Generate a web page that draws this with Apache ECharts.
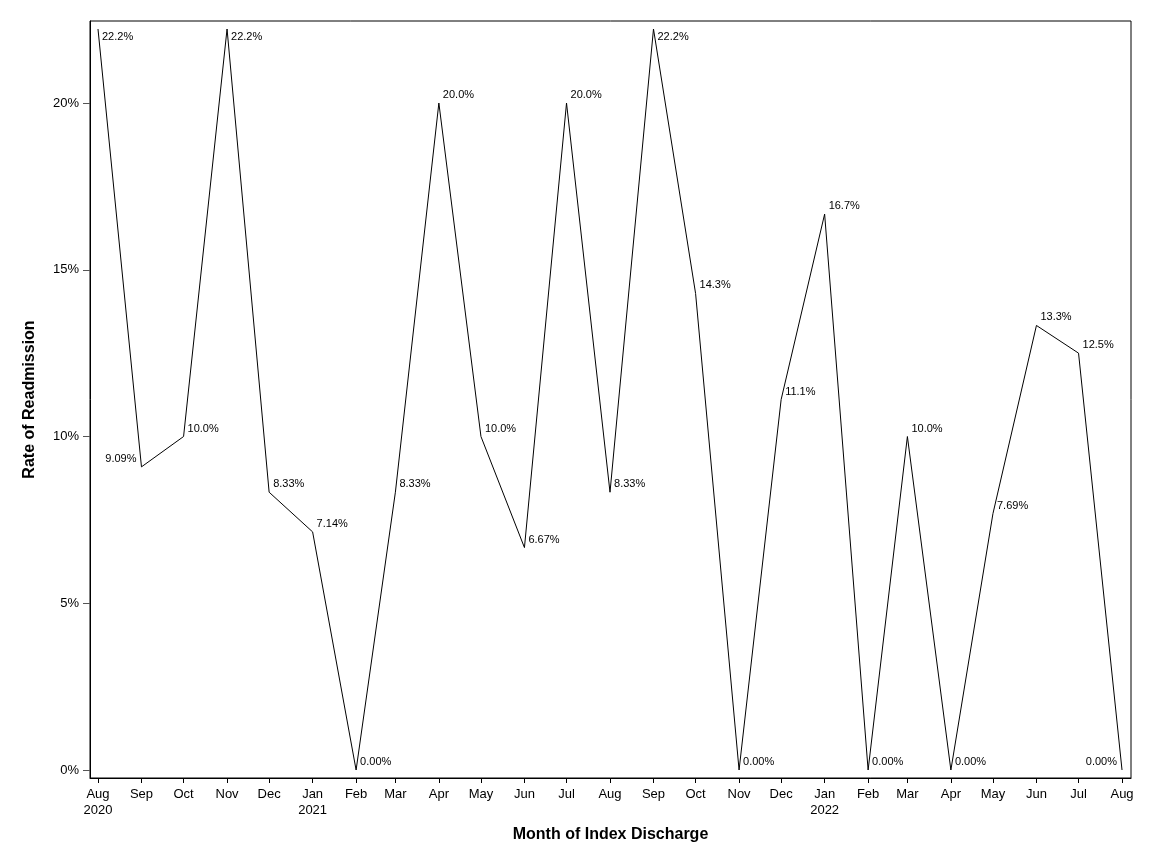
<!DOCTYPE html>
<html>
<head>
<meta charset="utf-8">
<script src="https://cdn.jsdelivr.net/npm/echarts@6/dist/echarts.min.js"></script>
<style>html,body{margin:0;padding:0;background:#fff}#c{width:1152px;height:864px}</style>
</head>
<body>
<div id="c"></div>
<script>
// Data
var months = ['2020-08','2020-09','2020-10','2020-11','2020-12','2021-01','2021-02','2021-03','2021-04','2021-05','2021-06','2021-07','2021-08','2021-09','2021-10','2021-11','2021-12','2022-01','2022-02','2022-03','2022-04','2022-05','2022-06','2022-07','2022-08'];
var rates = [22.22, 9.09, 10.0, 22.22, 8.33, 7.14, 0, 8.33, 20.0, 10.0, 6.67, 20.0, 8.33, 22.22, 14.29, 0, 11.11, 16.67, 0, 10.0, 0, 7.69, 13.33, 12.5, 0];
var yTicks = [0, 5, 10, 15, 20];
var monthNames = ['Jan','Feb','Mar','Apr','May','Jun','Jul','Aug','Sep','Oct','Nov','Dec'];

function ts(m) { var p = m.split('-'); return Date.UTC(+p[0], +p[1] - 1, 1); }
var tickTimes = months.map(ts);
var DAY = 86400000;

// label placement (style, not data)
var placeRule = function (i, v) {
  if (i === 1 || i === months.length - 1) return 'tl';
  if (v > 22) return 'br';
  return 'tr';
};
var placeStyles = {
  tr: { position: 'right', distance: 3, offset: [0, -8] },
  br: { position: 'right', distance: 3, offset: [0, 8] },
  tl: { position: 'left', distance: 4, offset: [0, -8] }
};

var seriesData = months.map(function (m, i) {
  return { value: [ts(m), rates[i]], label: placeStyles[placeRule(i, rates[i])] };
});

var font = 'Liberation Sans, Arial, sans-serif';
var chart = echarts.init(document.getElementById('c'), null, { renderer: 'canvas' });
chart.setOption({
  animation: false,
  backgroundColor: '#fff',
  grid: { left: 90, right: 21, top: 21, bottom: 86, show: true, borderColor: '#000', borderWidth: 1, containLabel: false },
  xAxis: {
    type: 'value',
    scale: true,
    min: tickTimes[0] - 5.7 * DAY,
    max: tickTimes[tickTimes.length - 1] + 6.4 * DAY,
    name: 'Month of Index Discharge',
    nameLocation: 'middle',
    nameGap: 49,
    nameTextStyle: { fontFamily: font, fontSize: 16, fontWeight: 'bold', color: '#000' },
    axisLine: { show: true, onZero: false, lineStyle: { color: '#000', width: 1 } },
    axisTick: { show: true, customValues: tickTimes, length: 5, inside: false, lineStyle: { color: '#000' } },
    splitLine: { show: false },
    axisLabel: {
      customValues: tickTimes,
      fontFamily: font, fontSize: 13, color: '#000', margin: 8, lineHeight: 16,
      formatter: function (val) {
        var d = new Date(val);
        var s = monthNames[d.getUTCMonth()];
        if (d.getUTCMonth() === 0 || val === tickTimes[0]) s += '\n' + d.getUTCFullYear();
        return s;
      }
    }
  },
  yAxis: {
    type: 'value',
    min: -0.24,
    max: 22.46,
    name: 'Rate of Readmission',
    nameLocation: 'middle',
    nameGap: 52,
    nameRotate: 90,
    nameTextStyle: { fontFamily: font, fontSize: 16, fontWeight: 'bold', color: '#000' },
    axisLine: { show: true, onZero: false, lineStyle: { color: '#000', width: 1 } },
    axisTick: { show: true, customValues: yTicks, length: 7, inside: false, lineStyle: { color: '#555' } },
    splitLine: { show: false },
    axisLabel: {
      customValues: yTicks,
      fontFamily: font, fontSize: 13, color: '#000', margin: 11,
      formatter: function (v) { return Math.round(v) + '%'; }
    }
  },
  series: [{
    type: 'line',
    data: seriesData,
    symbol: 'circle',
    symbolSize: 2,
    showSymbol: true,
    itemStyle: { color: 'rgba(0,0,0,0)' },
    lineStyle: { color: '#000', width: 1 },
    label: {
      show: true,
      color: '#000',
      fontFamily: font,
      fontSize: 11,
      formatter: function (p) { return p.value[1].toPrecision(3) + '%'; }
    },
    emphasis: { disabled: true }
  }]
});
</script>
</body>
</html>
